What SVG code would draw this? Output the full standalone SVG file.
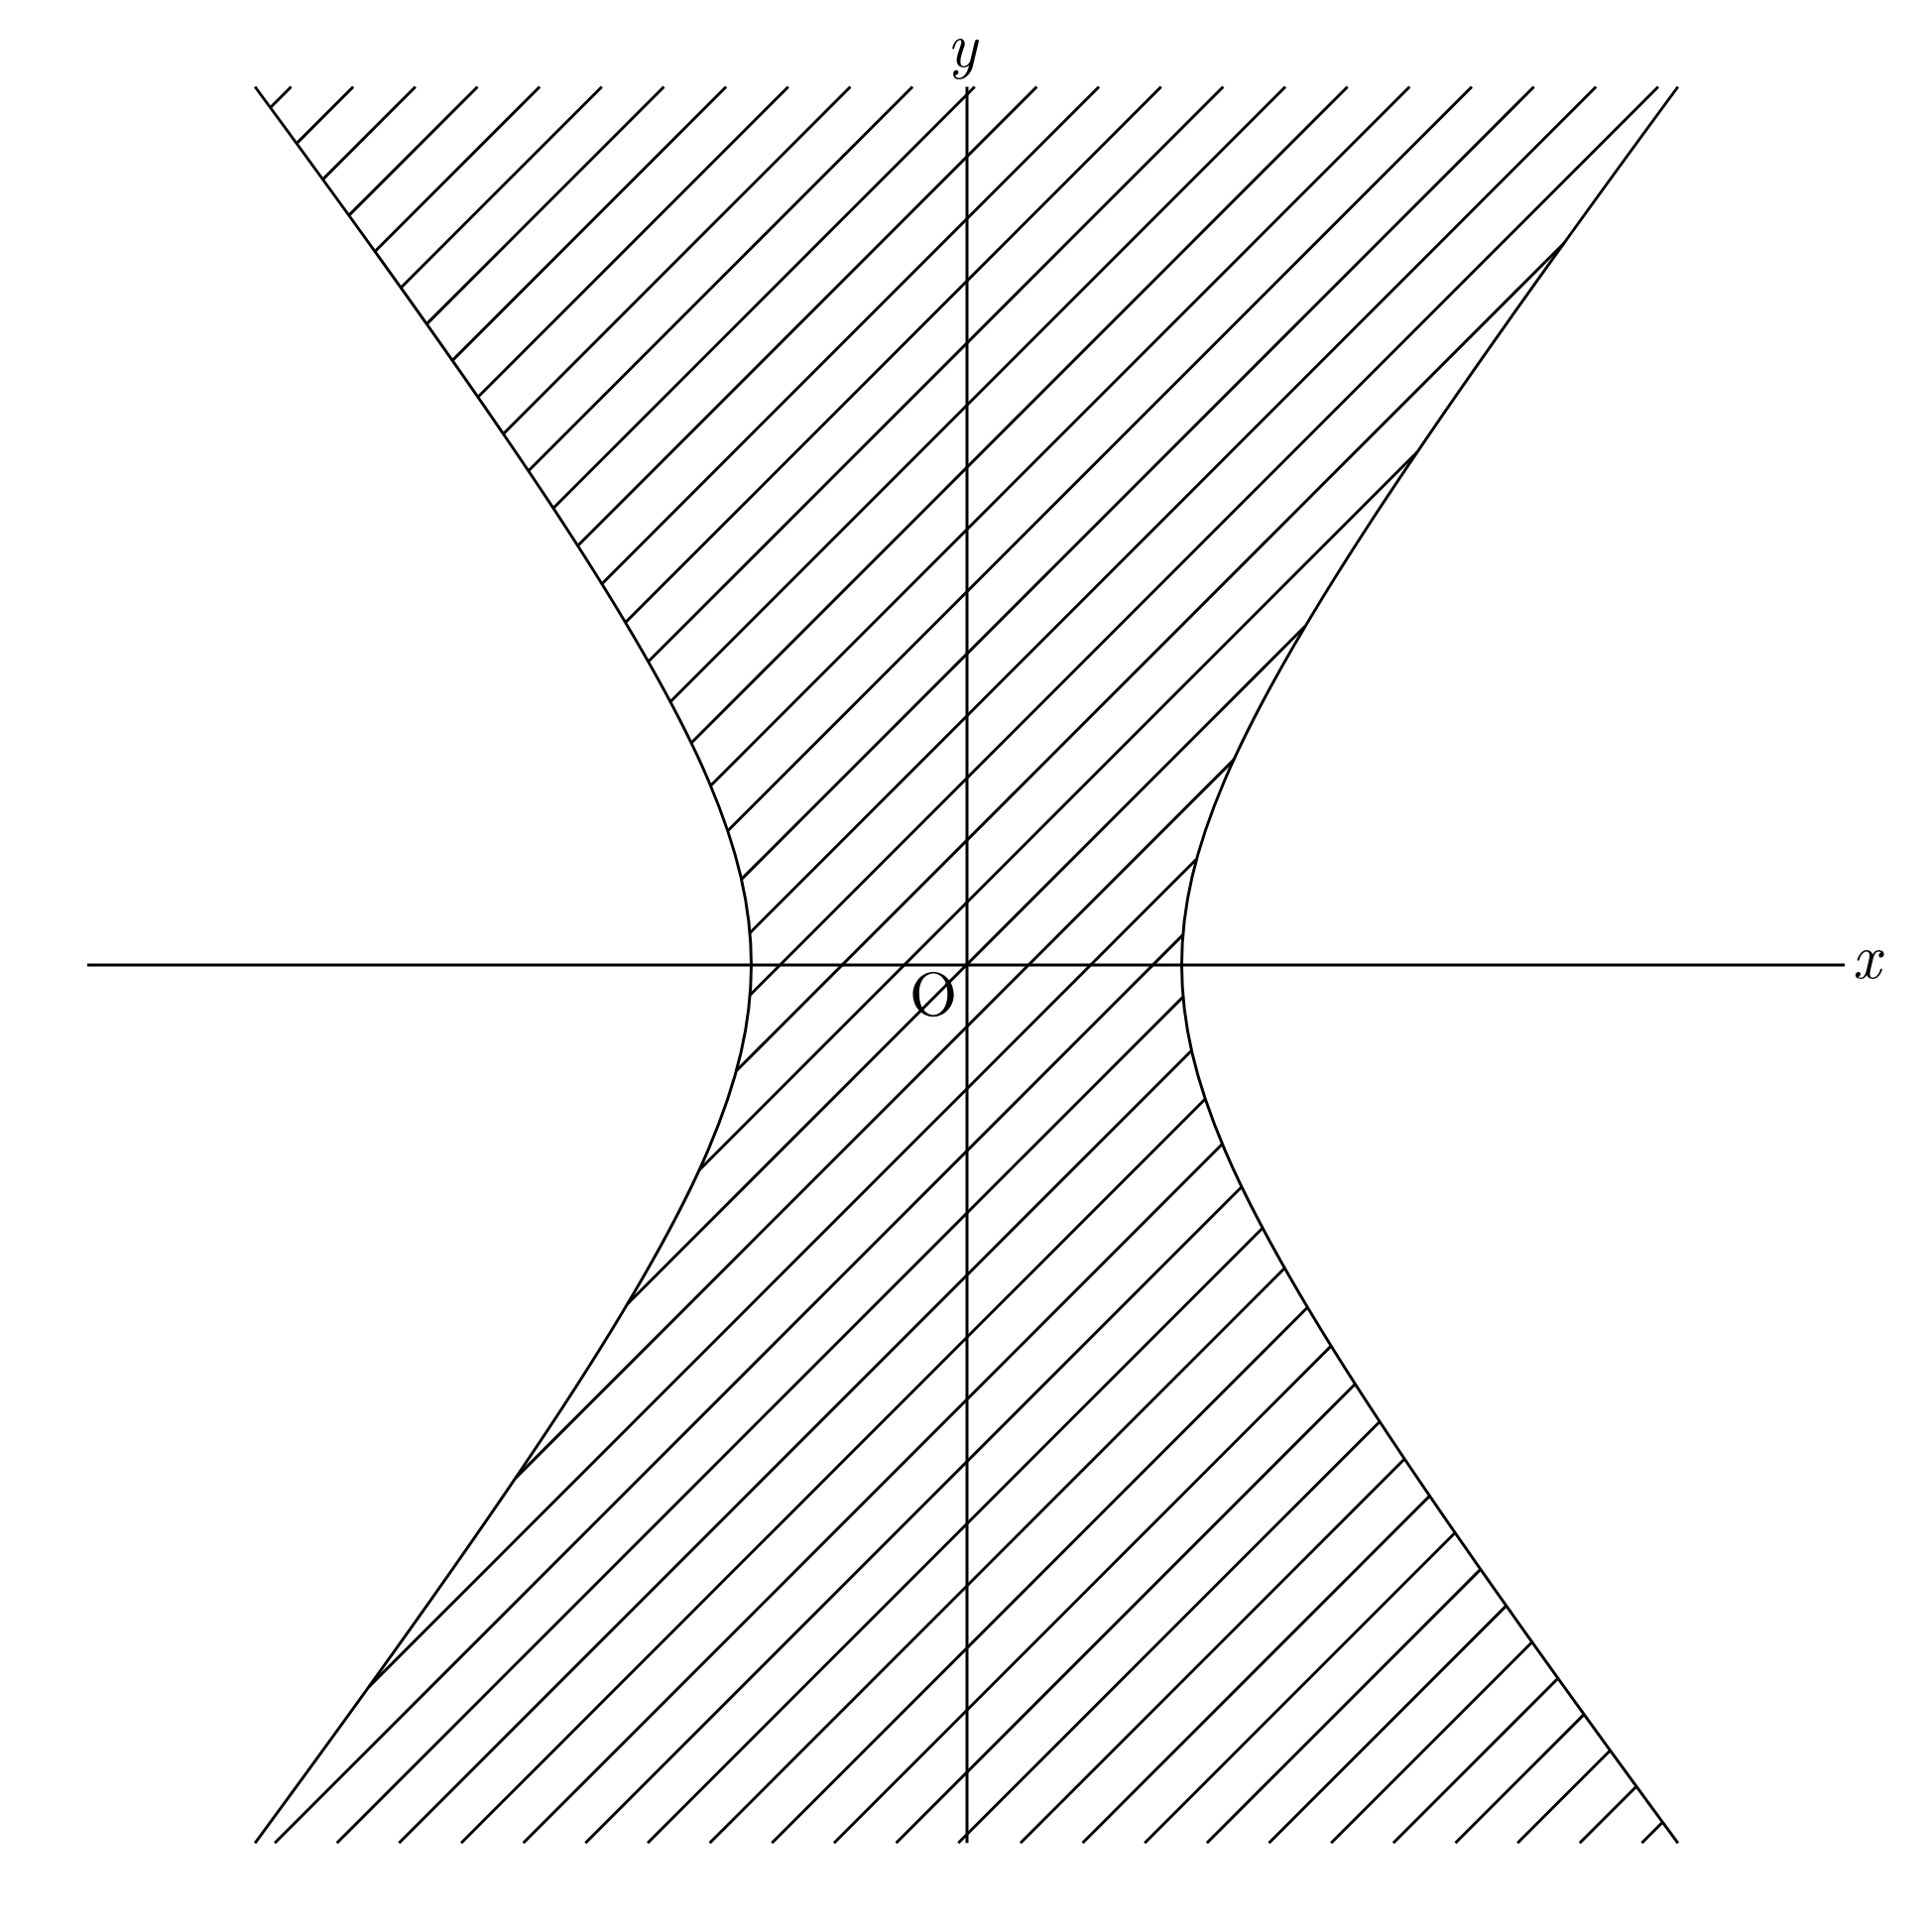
<svg xmlns="http://www.w3.org/2000/svg" xmlns:xlink="http://www.w3.org/1999/xlink" width="1948" height="1948" viewBox="0 0 1948 1948">
<style>
.ln{fill:none;stroke:#000;stroke-width:2.9;stroke-linecap:butt;stroke-linejoin:round}
.ax{fill:none;stroke:#000;stroke-width:3}
.lbl{font-family:"Latin Modern Roman","Liberation Serif",serif;font-size:62px;fill:#000}
.it{font-style:italic}
</style>
<defs>
<path id="branch" class="ln" d="M717.34 -885.39C575.65 -692.89 478.98 -556.01 407.5 -446.65C336.02 -337.29 290.09 -256.02 260.3 -186.17C230.51 -116.32 217 -58.23 217 0C217 58.23 230.51 116.32 260.3 186.17C290.09 256.02 336.02 337.29 407.5 446.65C478.98 556.01 575.65 692.89 717.34 885.39"/>
<path id="hatchHalf" class="ln" d="M269.41 -206.76L-454.55 517.2M232.16 -106.85L-602.42 727.73M218.25 -30.29L-697.44 885.4M218.42 32.2L-634.78 885.4M226.99 86.28L-572.13 885.4M240.78 135.14L-509.48 885.4M257.96 180.62L-446.82 885.4M277.41 223.82L-384.17 885.4M298.48 265.41L-321.51 885.4M320.72 305.82L-258.86 885.4M343.82 345.37L-196.21 885.4M367.61 384.24L-133.55 885.4M391.9 422.6L-70.9 885.4M416.62 460.54L-8.24 885.4M441.66 498.15L54.41 885.4M466.99 535.47L117.06 885.4M492.55 572.57L179.72 885.4M518.27 609.5L242.37 885.4M544.18 646.25L305.03 885.4M570.22 682.86L367.68 885.4M596.38 719.35L430.33 885.4M622.64 755.75L492.99 885.4M648.99 792.05L555.64 885.4M675.42 828.28L618.3 885.4M701.92 864.43L680.95 885.4"/>
</defs>
<rect x="0" y="0" width="1948" height="1948" fill="#fff"/>
<g transform="translate(974.5 972.9)">
<g id="hatching">
<path class="ln" d="M341.56 -341.56L-341.56 341.56"/>
<use xlink:href="#hatchHalf" href="#hatchHalf"/>
<use xlink:href="#hatchHalf" href="#hatchHalf" transform="rotate(180)"/>
</g>
<g id="hyperbola">
<use xlink:href="#branch" href="#branch"/>
<use xlink:href="#branch" href="#branch" transform="scale(-1 1)"/>
</g>
<g id="axes">
<line class="ax" x1="-886.5" y1="0" x2="885.5" y2="0"/>
<line class="ax" x1="0.5" y1="-885.4" x2="0.5" y2="885.4"/>
</g>
</g>
<g id="labels">
<text class="lbl it" x="970" y="67" text-anchor="middle">y</text>
<text class="lbl it" x="1882" y="986" text-anchor="middle">x</text>
<text class="lbl" x="941" y="1024" text-anchor="middle">O</text>
</g>
</svg>
